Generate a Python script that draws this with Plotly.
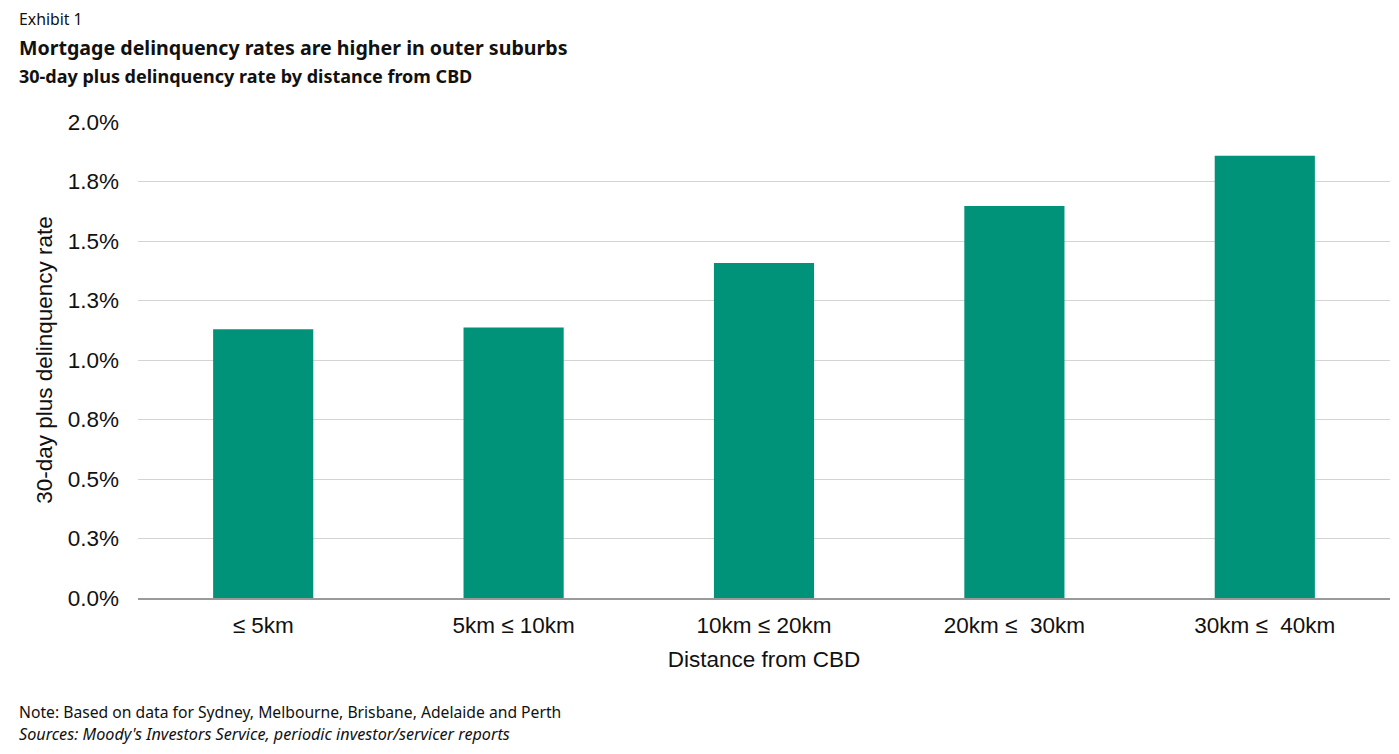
import plotly.graph_objects as go

categories = ["≤ 5km", "5km ≤ 10km", "10km ≤ 20km", "20km ≤  30km", "30km ≤  40km"]
delinquency_rate = [0.01129, 0.01137, 0.01408, 0.01647, 0.01858]
tick_values = [0, 0.0025, 0.005, 0.0075, 0.01, 0.0125, 0.015, 0.0175, 0.02]
tick_labels = ["0.0%", "0.3%", "0.5%", "0.8%", "1.0%", "1.3%", "1.5%", "1.8%", "2.0%"]

# page body has an 8px margin, so the figure is offset by (8, 8)
OFF = 8
W, H = 1383, 738
ML, MR, MT, MB = 130, 1, 114, 148

fig = go.Figure(go.Bar(
    x=categories, y=delinquency_rate, width=0.4,
    marker=dict(color="#00937a", line=dict(width=0)),
    hovertemplate="%{x}: %{y:.2%}<extra></extra>",
))

axis_font = dict(family="Liberation Sans, Arial, sans-serif", size=22.5, color="#111")
head_font = "Noto Sans, Open Sans, sans-serif"

fig.update_layout(
    width=W, height=H,
    margin=dict(l=ML, r=MR, t=MT, b=MB),
    paper_bgcolor="white", plot_bgcolor="white",
    showlegend=False,
    xaxis=dict(
        range=[-0.5, 4.5], tickfont=axis_font, ticks="", showgrid=False,
        showline=True, linecolor="#9a9a9a", linewidth=2, ticklabelstandoff=6,
        title=dict(text="Distance from CBD", font=axis_font, standoff=14),
    ),
    yaxis=dict(
        range=[0, 0.02], tickvals=tick_values, ticktext=tick_labels,
        tickfont=axis_font, ticks="", showgrid=True, gridcolor="#d4d4d4",
        gridwidth=1, zeroline=False, showline=False, ticklabelstandoff=18,
        title=dict(text="30-day plus delinquency rate", font=axis_font, standoff=8),
    ),
)

# header / footer texts: (text, page x, page y center, font size)
texts = [
    ("Exhibit 1", 17, 19, 15.8),
    ("<b>Mortgage delinquency rates are higher in outer suburbs</b>", 17, 47, 19.6),
    ("<b>30-day plus delinquency rate by distance from CBD</b>", 17, 76, 18),
    ("Note: Based on data for Sydney, Melbourne, Brisbane, Adelaide and Perth", 17, 712, 15.7),
    ("<i>Sources: Moody's Investors Service, periodic investor/servicer reports</i>", 17, 734, 16.2),
]
plot_w = W - ML - MR
plot_h = H - MT - MB
for t, px, py, s in texts:
    fx, fy = px - OFF, py - OFF
    fig.add_annotation(
        text=t, showarrow=False, xref="paper", yref="paper",
        x=(fx - ML) / plot_w, y=1 - (fy - MT) / plot_h,
        xanchor="left", yanchor="middle",
        font=dict(family=head_font, size=s, color="#111"),
    )

fig.write_html("out.html")
